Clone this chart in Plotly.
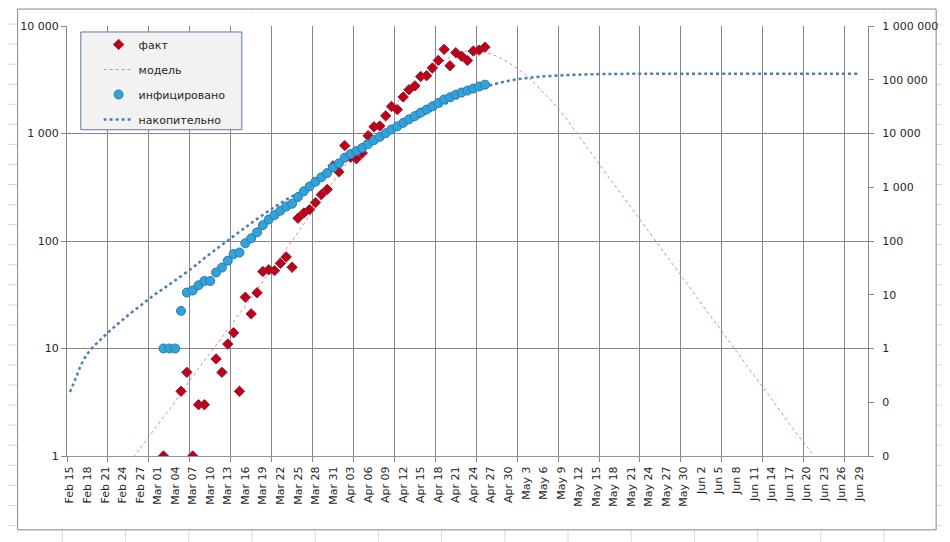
import plotly.graph_objects as go
import pandas as pd

# ======= COVID-19 Russia: fact vs model (log scales) ============

### ----------- data ---------------------------------
days = pd.date_range("2020-03-02", "2020-04-26", freq="D")

# daily new cases (left axis); None = 0, not shown on log axis
fact = [1, None, None, 4, 6, 1, 3, 3, None, 8,
        6, 11, 14, 4, 30, 21, 33, 52, 54, 53,
        62, 71, 57, 163, 182, 196, 228, 270, 302, 500,
        440, 771, 601, 582, 658, 954, 1154, 1175, 1459, 1786,
        1667, 2186, 2558, 2774, 3388, 3448, 4070, 4785, 6060, 4268,
        5642, 5236, 4774, 5849, 5966, 6361]

# total infected (right axis)
infected = [1, 1, 1, 5, 11, 12, 15, 18, 18, 26,
            32, 43, 57, 61, 91, 112, 145, 197, 251, 304,
            366, 437, 494, 657, 839, 1035, 1263, 1533, 1835, 2335,
            2775, 3546, 4147, 4729, 5387, 6341, 7495, 8670, 10129, 11915,
            13582, 15768, 18326, 21100, 24488, 27936, 32006, 36791, 42851, 47119,
            52761, 57997, 62771, 68620, 74586, 80947]

# model, daily (left axis)
model_dates = pd.date_range("2020-02-24", "2020-06-23", freq="3D")
model = [0.71, 1.17, 1.95, 3.2, 5.5, 9.1, 15, 25, 42, 71,
         120, 209, 355, 590, 955, 1480, 2240, 3240, 4370, 5450,
         5900, 5500, 4570, 3470, 2400, 1585, 955, 569, 339, 204,
         123, 73, 44, 26, 15.8, 9.4, 5.6, 3.4, 2.0, 1.23, 0.74]

# model, cumulative (right axis)
cum_dates = ["2020-02-15", "2020-02-16", "2020-02-17", "2020-02-18", "2020-02-19",
             "2020-02-20", "2020-02-21", "2020-02-22", "2020-02-23", "2020-02-24",
             "2020-02-25", "2020-02-27", "2020-02-29", "2020-03-02", "2020-03-04",
             "2020-03-07", "2020-03-09", "2020-03-13", "2020-03-17", "2020-03-21",
             "2020-03-24", "2020-03-26", "2020-03-29", "2020-04-01", "2020-04-04",
             "2020-04-07", "2020-04-10", "2020-04-13", "2020-04-16", "2020-04-19",
             "2020-04-22", "2020-04-25", "2020-04-28", "2020-05-01", "2020-05-04",
             "2020-05-07", "2020-05-10", "2020-05-13", "2020-05-16", "2020-05-19",
             "2020-05-25", "2020-06-29"]
cum_model = [0.155, 0.28, 0.52, 0.8, 1.08, 1.38, 1.75, 2.2, 2.75, 3.4,
             4.2, 6.2, 9.2, 13, 18.5, 32, 48, 102, 215, 430,
             680, 870, 1500, 2600, 4300, 6900, 10500, 16000, 24000, 35000,
             50000, 67000, 85000, 100000, 110000, 117000, 122000, 125500, 127500, 128500,
             129300, 129600]

tick_labels = ["Feb 15", "Feb 18", "Feb 21", "Feb 24", "Feb 27",
               "Mar 01", "Mar 04", "Mar 07", "Mar 10", "Mar 13", "Mar 16", "Mar 19",
               "Mar 22", "Mar 25", "Mar 28", "Mar 31",
               "Apr 03", "Apr 06", "Apr 09", "Apr 12", "Apr 15", "Apr 18", "Apr 21",
               "Apr 24", "Apr 27", "Apr 30",
               "May 3", "May 6", "May 9", "May 12", "May 15", "May 18", "May 21",
               "May 24", "May 27", "May 30",
               "Jun 2", "Jun 5", "Jun 8", "Jun 11", "Jun 14", "Jun 17", "Jun 20",
               "Jun 23", "Jun 26", "Jun 29"]

left_vals = [1, 10, 100, 1000, 10000]
left_text = ["1", "10", "100", "1 000", "10 000"]
right_vals = [0.01, 0.1, 1, 10, 100, 1000, 10000, 100000, 1000000]
right_text = ["0", "0", "1", "10", "100", "1 000", "10 000", "100 000", "1 000 000"]

# points sit in the middle of their day (Excel date axis)
half_day = pd.Timedelta(hours=12)
grid_gray = "#878787"

fig = go.Figure()

fig.add_trace(go.Scatter(
    x=model_dates + half_day, y=model, name="модель", mode="lines",
    line=dict(color="#d98a8c", width=1, dash="dot", shape="spline"),
    legendgroup="m", legendrank=2))

fig.add_trace(go.Scatter(
    x=days + half_day, y=fact, name="факт", mode="markers",
    marker=dict(symbol="diamond", size=8, color="#c00018",
                line=dict(color="#8c2233", width=1)),
    legendgroup="f", legendrank=1))

fig.add_trace(go.Scatter(
    x=pd.to_datetime(cum_dates) + half_day, y=cum_model, name="накопительно",
    mode="lines", yaxis="y2",
    line=dict(color="#4a7ebb", width=2.5, dash="dot", shape="spline"),
    legendgroup="n", legendrank=4))

fig.add_trace(go.Scatter(
    x=days + half_day, y=infected, name="инфицировано", mode="markers",
    yaxis="y2",
    marker=dict(symbol="circle", size=9, color="#2fa4dc",
                line=dict(color="#3277a8", width=1)),
    legendgroup="i", legendrank=3))

# the page body adds 8px, so the figure is 942x534 and the plot area
# sits at x 62..873, y 25..456 of the window
# spreadsheet cells behind the chart object, chart border, legend box
shapes = []
for k in range(28):
    yy = (456 - (3 + 20.1 * k)) / 431
    shapes.append(dict(type="line", xref="paper", yref="paper",
                       x0=-62 / 811, x1=888 / 811, y0=yy, y1=yy,
                       line=dict(color="#d9d9d9", width=1), layer="below"))
for k in range(15):
    xx = (57.3 + 64 * k - 62) / 811
    shapes.append(dict(type="line", xref="paper", yref="paper",
                       x0=xx, x1=xx, y0=-86 / 431, y1=481 / 431,
                       line=dict(color="#d9d9d9", width=1), layer="below"))
shapes.append(dict(type="rect", xref="paper", yref="paper",
                   x0=(12 - 62) / 811, x1=(942 - 62) / 811,
                   y0=(456 - 530) / 431, y1=(456 - 8) / 431,
                   fillcolor="white", line=dict(color=grid_gray, width=1), layer="below"))
shapes.append(dict(type="rect", xref="paper", yref="paper",
                   x0=(76 - 62) / 811, x1=(239 - 62) / 811,
                   y0=(456 - 129) / 431, y1=(456 - 31) / 431,
                   fillcolor="#f2f2f2", line=dict(color="#5b7a9e", width=1), layer="above"))

fig.update_layout(
    width=942,
    height=534,
    autosize=False,
    margin=dict(l=54, r=77, t=17, b=86),
    paper_bgcolor="white",
    plot_bgcolor="rgba(0,0,0,0)",
    font=dict(family="DejaVu Sans", size=11, color="#262626"),
    shapes=shapes,
    showlegend=True,
    legend=dict(x=(94 - 62) / 811, y=(456 - 29) / 431, xanchor="left", yanchor="top",
                bgcolor="rgba(0,0,0,0)", borderwidth=0,
                traceorder="grouped", tracegroupgap=6,
                font=dict(size=11, color="#262626")),
    xaxis=dict(
        type="date",
        range=["2020-02-15", "2020-07-01"],
        tickmode="array",
        tickvals=pd.date_range("2020-02-15", periods=len(tick_labels), freq="3D") + half_day,
        ticktext=tick_labels,
        tickangle=-90,
        ticks="outside", ticklen=5, tickcolor="rgba(0,0,0,0)",
        showgrid=False, zeroline=False,
        showline=True, linecolor="#8497b0", linewidth=1,
        minor=dict(tick0="2020-02-15", dtick=7 * 86400000,
                   showgrid=True, gridcolor=grid_gray, gridwidth=1,
                   ticks="outside", ticklen=5, tickcolor=grid_gray),
    ),
    yaxis=dict(
        type="log", range=[0, 4],
        tickmode="array", tickvals=left_vals, ticktext=left_text,
        ticks="outside", ticklen=5, tickcolor=grid_gray,
        showgrid=True, gridcolor=grid_gray, gridwidth=1,
        showline=True, linecolor=grid_gray, zeroline=False,
    ),
    yaxis2=dict(
        type="log", range=[-2, 6], overlaying="y", side="right",
        tickmode="array", tickvals=right_vals, ticktext=right_text,
        ticks="outside", ticklen=5, tickcolor=grid_gray,
        ticklabelstandoff=6,
        showgrid=False, showline=True, linecolor=grid_gray, zeroline=False,
    ),
)

fig.write_html("out.html")
